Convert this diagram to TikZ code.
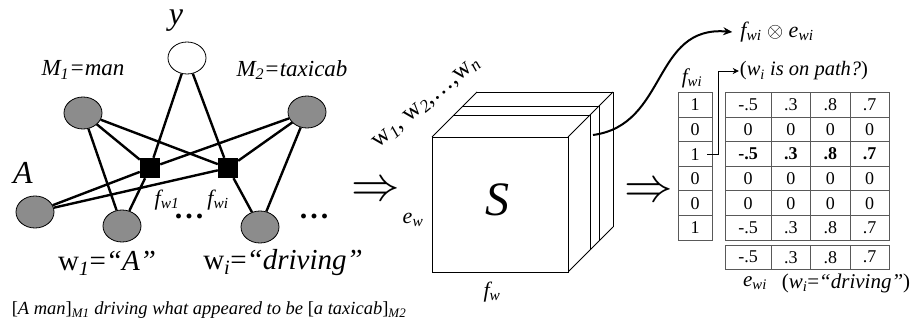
\documentclass[tikz,border=0pt]{standalone}
\usepackage{fontspec}
\usepackage{graphicx}
\setmainfont{Liberation Serif}
\usetikzlibrary{shapes.geometric,arrows.meta}
\newcommand{\fs}[1]{\fontsize{#1}{#1}\selectfont}
\newcommand{\sbs}[1]{\textsubscript{#1}}
\begin{document}
\begin{tikzpicture}[x=1pt,y=-1pt,
  gnode/.style={ellipse, draw, fill=black!45, minimum width=38pt, minimum height=32pt, line width=0.8pt, inner sep=0},
  ynode/.style={gnode, fill=white},
  fac/.style={rectangle, fill=black, minimum size=20pt, inner sep=0},
  edge/.style={line width=2.4pt},
  lbl/.style={inner sep=0, font=\fs{21}\itshape},
  cubeline/.style={line width=0.9pt},
  cell/.style={draw=black!65, line width=0.8pt, inner sep=0, font=\fs{18}, minimum height=24.55pt},
  imp/.style={inner sep=0}
]
\useasboundingbox (0,0) rectangle (918,320);

% ---------- factor graph ----------
\node[ynode] (y) at (187,58) {};
\node[gnode] (m1) at (83,113) {};
\node[gnode] (m2) at (307,112) {};
\node[gnode] (a) at (35,212) {};
\node[gnode] (w1) at (122,226) {};
\node[gnode] (wi) at (260,227) {};
\node[fac] (f1) at (150,168) {};
\node[fac] (fi) at (228,168) {};

\foreach \s in {y,m1,m2,a,w1} \draw[edge] (\s) -- (f1);
\foreach \s in {y,m1,m2,a,wi} \draw[edge] (\s) -- (fi);
\draw[edge] (m1) -- (w1);
\draw[edge] (m2) -- (wi);

\node[lbl, font=\fs{32}\itshape] (ylab) at (176,21) {y};
\node[lbl, font=\fs{23}\itshape] (m1lab) at (83,70) {M\sbs{1}=man};
\node[lbl, font=\fs{23}\itshape] (m2lab) at (292,70) {M\sbs{2}=taxicab};
\node[lbl, font=\fs{32}\itshape] (alab) at (23,173) {A};
\node[lbl, font=\fs{22}\itshape] (f1lab) at (167,200) {f\sbs{w1}};
\node[lbl, font=\fs{22}\itshape] (filab) at (218,200) {f\sbs{wi}};
\node[lbl, font=\fs{30}\bfseries] (dots1) at (189,216) {.\kern3pt.\kern3pt.};
\node[lbl, font=\fs{30}\bfseries] (dots2) at (314,216) {.\kern3pt.\kern3pt.};
\node[lbl, font=\fs{29}] (w1lab) at (107,263) {w\sbs{\textit{1}}=\textit{“A”}};
\node[lbl, font=\fs{29}] (wilab) at (283,263) {w\sbs{\textit{i}}=\textit{“driving”}};
\node[lbl, font=\fs{18.5}\itshape] (cap) at (209,310) {\textup{[}A man\textup{]}\sbs{M1} driving what appeared to be \textup{[}a taxicab\textup{]}\sbs{M2}};

% ---------- implication arrows ----------
\node[imp] (imp1) at (376,192) {\scalebox{1.95}{\fs{24.88}$\Rightarrow$}};
\node[imp] (imp2) at (649,193) {\scalebox{1.95}{\fs{24.88}$\Rightarrow$}};

% ---------- cube ----------
\foreach \d in {45,31,22} {
  \draw[cubeline] (432+\d,137-\d) -- (568+\d,137-\d) -- (568+\d,272-\d);
}
\draw[cubeline] (432,137) -- (477,92);
\draw[cubeline] (568,137) -- (613,92);
\draw[cubeline] (568,272) -- (613,227);
\draw[cubeline, fill=white] (432,137) rectangle (568,272);
\node[lbl, font=\fs{48}\itshape] (S) at (497,200) {S};
\node[lbl, font=\fs{22}\itshape] (ew) at (413,220) {e\sbs{w}};
\node[lbl, font=\fs{22}\itshape] (fw) at (492,292) {f\sbs{w}};
\node[lbl, font=\fs{25}, rotate=40] (wseq) at (427,103) {w\sbs{\textit{1}}, w\sbs{\textit{2}},\ldots,w\sbs{\textit{n}}};
\coordinate (cubeout) at (593,135);

% ---------- product label and curved arrow ----------
\node[lbl, font=\fs{22}] (fe) at (777,32) {\textit{f\sbs{wi}} $\otimes$ \textit{e\sbs{wi}}};
\draw[line width=2pt, -{Stealth[length=9pt,width=8pt]}] (cubeout) .. controls (668,125) and (652,25) .. ([xshift=-8pt]fe.west);

% ---------- table ----------
\node[lbl] (fcol) at (692,78) {f\sbs{wi}};
\foreach \v [count=\i] in {1,0,1,0,0,1} {
  \pgfmathsetmacro\yy{92.7+24.55*(\i-0.5)}
  \node[cell, minimum width=34pt] (col\i) at (695,\yy) {\v};
}
\newcommand{\tabrow}[6]{%
  \node[cell, minimum width=46pt] (t#1a) at (748,#2) {#3};
  \node[cell, minimum width=39.7pt] (t#1b) at (790.85,#2) {#4};
  \node[cell, minimum width=39.3pt] (t#1c) at (830.35,#2) {#5};
  \node[cell, minimum width=39pt] (t#1d) at (869.5,#2) {#6};
}
\tabrow{1}{104.975}{-.5}{.3}{.8}{.7}
\tabrow{2}{129.525}{0}{0}{0}{0}
\tabrow{3}{154.075}{\textbf{-.5}}{\textbf{.3}}{\textbf{.8}}{\textbf{.7}}
\tabrow{4}{178.625}{0}{0}{0}{0}
\tabrow{5}{203.175}{0}{0}{0}{0}
\tabrow{6}{227.725}{-.5}{.3}{.8}{.7}
\tabrow{7}{257.2}{-.5}{.3}{.8}{.7}

\node[lbl, font=\fs{20.5}] (path) at (804,71) {(\textit{w\sbs{i} is on path?})};
\draw[line width=0.9pt, -{Stealth[length=6pt,width=6pt]}] ([xshift=-5pt]col3.east) -- ++(11,0) |- ([xshift=-1pt]path.west);

\node[lbl] (ewi) at (755,283) {e\sbs{wi}};
\node[lbl, font=\fs{21}] (drv) at (846,283) {(\textit{w\sbs{i}}=\textit{“driving”})};
\end{tikzpicture}
\end{document}
